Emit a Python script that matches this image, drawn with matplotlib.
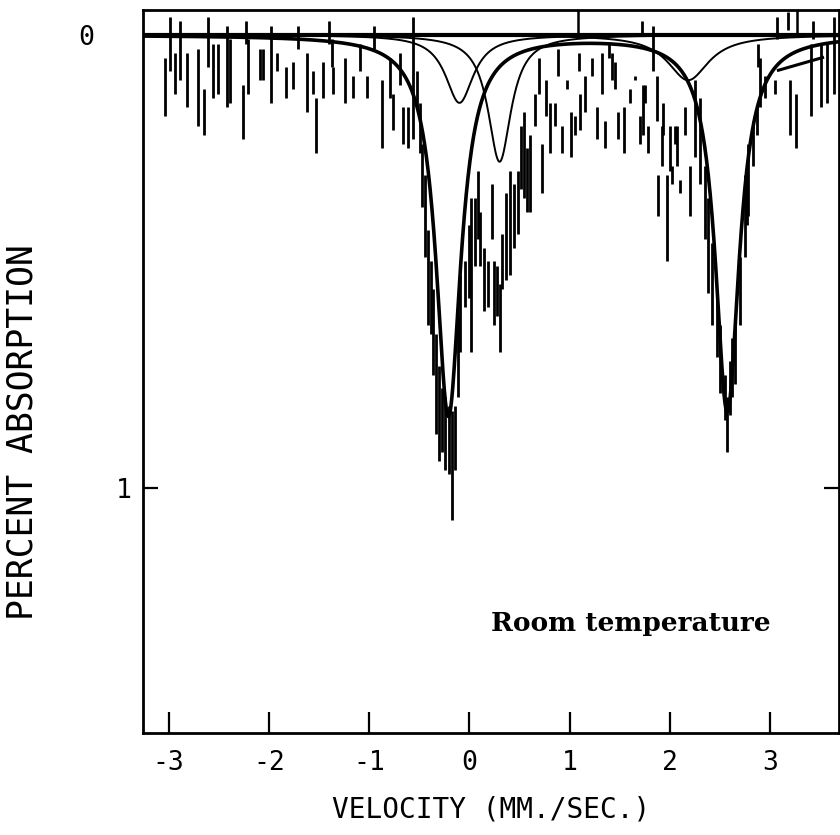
import numpy as np
import matplotlib.pyplot as plt
import matplotlib.transforms as mtransforms

# measured channels, drawn as vertical error bars (velocity, top, bottom) in % absorption
bar_v = [-3.04, -2.99, -2.94, -2.89, -2.82, -2.71, -2.65, -2.61, -2.56, -2.51,
         -2.42, -2.39, -2.26, -2.23, -2.21, -2.09, -2.06, -1.98, -1.92, -1.83,
         -1.76, -1.71, -1.62, -1.56, -1.53, -1.46, -1.40, -1.37, -1.36, -1.24,
         -1.16, -1.09, -1.02, -0.95, -0.87, -0.79, -0.76, -0.69, -0.66, -0.61,
         -0.56, -0.52, -0.49, -0.47, -0.44, -0.41, -0.38, -0.36, -0.33, -0.30,
         -0.27, -0.24, -0.20, -0.17, -0.14, -0.11, -0.09, -0.04, 0.00, 0.02,
         0.05, 0.08, 0.10, 0.14, 0.18, 0.22, 0.24, 0.27, 0.30, 0.32,
         0.36, 0.40, 0.44, 0.48, 0.51, 0.54, 0.57, 0.60, 0.65, 0.69,
         0.72, 0.76, 0.80, 0.85, 0.88, 0.92, 0.97, 1.01, 1.05, 1.09,
         1.10, 1.15, 1.22, 1.27, 1.32, 1.35, 1.39, 1.42, 1.45, 1.48,
         1.54, 1.60, 1.65, 1.70, 1.72, 1.73, 1.75, 1.78, 1.83, 1.87,
         1.88, 1.92, 1.93, 1.97, 2.00, 2.02, 2.05, 2.07, 2.10, 2.15,
         2.20, 2.25, 2.30, 2.35, 2.38, 2.42, 2.47, 2.50, 2.55, 2.57,
         2.60, 2.62, 2.65, 2.70, 2.75, 2.77, 2.78, 2.83, 2.87, 2.88,
         2.90, 2.95, 3.05, 3.07, 3.18, 3.20, 3.26, 3.40, 3.42, 3.50,
         3.56, 3.63]
bar_top = [0.05, -0.04, 0.04, -0.03, 0.04, 0.03, 0.12, -0.04, 0.02, 0.02,
           -0.02, 0.01, 0.11, -0.03, 0.01, 0.03, 0.03, -0.02, 0.04, 0.07,
           0.06, -0.02, 0.04, 0.08, 0.14, 0.06, -0.03, 0.01, 0.07, 0.05,
           0.09, 0.02, 0.09, -0.02, 0.10, 0.05, 0.13, 0.04, 0.16, 0.16,
           -0.04, 0.08, 0.15, 0.24, 0.31, 0.43, 0.50, 0.56, 0.66, 0.73,
           0.78, 0.80, 0.82, 0.83, 0.82, 0.62, 0.53, 0.50, 0.42, 0.36,
           0.36, 0.30, 0.39, 0.47, 0.50, 0.33, 0.50, 0.51, 0.55, 0.44,
           0.35, 0.30, 0.33, 0.30, 0.20, 0.17, 0.25, 0.22, 0.13, 0.05,
           0.24, 0.10, 0.15, 0.15, 0.03, 0.20, 0.10, 0.17, 0.18, 0.04,
           0.13, 0.09, 0.05, 0.16, 0.04, 0.19, 0.02, 0.04, 0.06, 0.17,
           0.16, 0.12, 0.09, 0.18, -0.03, 0.11, 0.11, 0.20, -0.02, 0.09,
           0.31, 0.20, 0.15, 0.31, 0.20, 0.29, 0.20, 0.20, 0.32, 0.16,
           0.29, 0.10, 0.14, 0.29, 0.36, 0.46, 0.58, 0.64, 0.75, 0.80,
           0.72, 0.67, 0.64, 0.49, 0.31, 0.29, 0.24, 0.19, 0.16, 0.02,
           0.05, 0.09, 0.10, -0.04, -0.05, 0.10, 0.13, 0.02, -0.03, 0.02,
           0.02, -0.04]
bar_bot = [0.18, 0.08, 0.13, 0.10, 0.16, 0.20, 0.22, 0.07, 0.14, 0.13,
           0.16, 0.15, 0.23, 0.02, 0.13, 0.10, 0.10, 0.15, 0.08, 0.14,
           0.12, 0.03, 0.17, 0.13, 0.26, 0.14, 0.02, 0.07, 0.13, 0.15,
           0.14, 0.08, 0.14, 0.03, 0.25, 0.14, 0.21, 0.11, 0.24, 0.25,
           0.23, 0.16, 0.26, 0.38, 0.49, 0.64, 0.66, 0.75, 0.88, 0.94,
           0.92, 0.96, 0.97, 1.07, 0.96, 0.80, 0.70, 0.60, 0.58, 0.70,
           0.51, 0.45, 0.51, 0.61, 0.60, 0.45, 0.64, 0.62, 0.70, 0.56,
           0.54, 0.53, 0.47, 0.44, 0.34, 0.36, 0.39, 0.39, 0.20, 0.13,
           0.35, 0.18, 0.26, 0.20, 0.09, 0.26, 0.12, 0.27, 0.22, 0.08,
           0.21, 0.17, 0.09, 0.23, 0.13, 0.25, 0.05, 0.10, 0.12, 0.23,
           0.26, 0.15, 0.10, 0.24, 0.00, 0.22, 0.15, 0.26, 0.08, 0.19,
           0.40, 0.29, 0.22, 0.50, 0.30, 0.33, 0.24, 0.29, 0.35, 0.22,
           0.40, 0.27, 0.33, 0.45, 0.57, 0.64, 0.71, 0.79, 0.85, 0.92,
           0.84, 0.80, 0.77, 0.64, 0.49, 0.42, 0.40, 0.29, 0.22, 0.07,
           0.16, 0.14, 0.13, 0.01, -0.01, 0.22, 0.25, 0.18, 0.01, 0.16,
           0.15, 0.13]

# main quadrupole doublet (thick trace): centre (mm/s), depth (%), half width (mm/s)
main_center = [-0.21, 2.57]
main_depth = [0.84, 0.83]
main_hwhm = [0.15, 0.145]

# weaker fitted lines (thin traces)
sub_center = [-0.10, 0.30, 2.18]
sub_depth = [0.15, 0.28, 0.10]
sub_hwhm = [0.17, 0.14, 0.25]

# short stray segment of the fit trace at the right edge
tail_v = [3.08, 3.52]
tail_y = [0.078, 0.050]

# marks on the upper frame
top_marks = [1.08, 3.27]

x_ticks = [-3, -2, -1, 0, 1, 2, 3]
x_ticklabels = ['-3', '-2', '-1', '0', '1', '2', '3']
y_ticks = [0, 1]
y_ticklabels = ['0', '1']

mono = 'DejaVu Sans Mono'

fig = plt.figure(figsize=(8.4, 8.35), dpi=100)
ax = fig.add_axes([143 / 840, 1 - 733 / 835, (839 - 143) / 840, (733 - 10) / 835])

v = np.linspace(-3.25, 3.68, 1500)

def lorentz(c, d, w):
    return d / (1 + ((v - c) / w) ** 2)

# thin component lines
for c, d, w in zip(sub_center, sub_depth, sub_hwhm):
    ax.plot(v, lorentz(c, d, w), color='black', lw=1.4)

# thick doublet trace
main = sum(lorentz(c, d, w) for c, d, w in zip(main_center, main_depth, main_hwhm))
ax.plot(v, main, color='black', lw=2.6)
ax.plot(tail_v, tail_y, color='black', lw=2.2)

# data
ax.vlines(bar_v, bar_top, bar_bot, color='black', lw=2.0)

# baseline and frame marks
ax.axhline(0, color='black', lw=3)
ax.vlines(top_marks, -0.055, 0, color='black', lw=1.8)

ax.set_xlim(-3.255, 3.684)
ax.set_ylim(1.541, -0.055)

for s in ax.spines.values():
    s.set_linewidth(2)

ax.set_xticks(x_ticks)
ax.set_xticklabels(x_ticklabels, fontfamily=mono, fontsize=19)
ax.set_yticks(y_ticks)
ax.set_yticklabels(y_ticklabels, fontfamily=mono, fontsize=19)
ax.tick_params(axis='x', direction='in', length=15, width=1.6, pad=12)
ax.tick_params(axis='y', direction='in', length=11, width=1.6, pad=8, right=True)

# the "0" label sits further out than the "1"
lab0 = ax.get_yticklabels()[0]
lab0.set_transform(lab0.get_transform() + mtransforms.ScaledTranslation(-0.38, 0.0, fig.dpi_scale_trans))

ax.set_xlabel('VELOCITY (MM./SEC.)', fontfamily=mono, fontsize=20, labelpad=14)
ax.set_ylabel('PERCENT ABSORPTION', fontfamily=mono, fontsize=25)
ax.yaxis.set_label_coords(-0.148, 0.416)

ax.text(1.61, 1.30, 'Room temperature', fontfamily='DejaVu Serif', fontweight='bold',
        fontsize=19, ha='center', va='center')

fig.savefig('out.png', dpi=100)
